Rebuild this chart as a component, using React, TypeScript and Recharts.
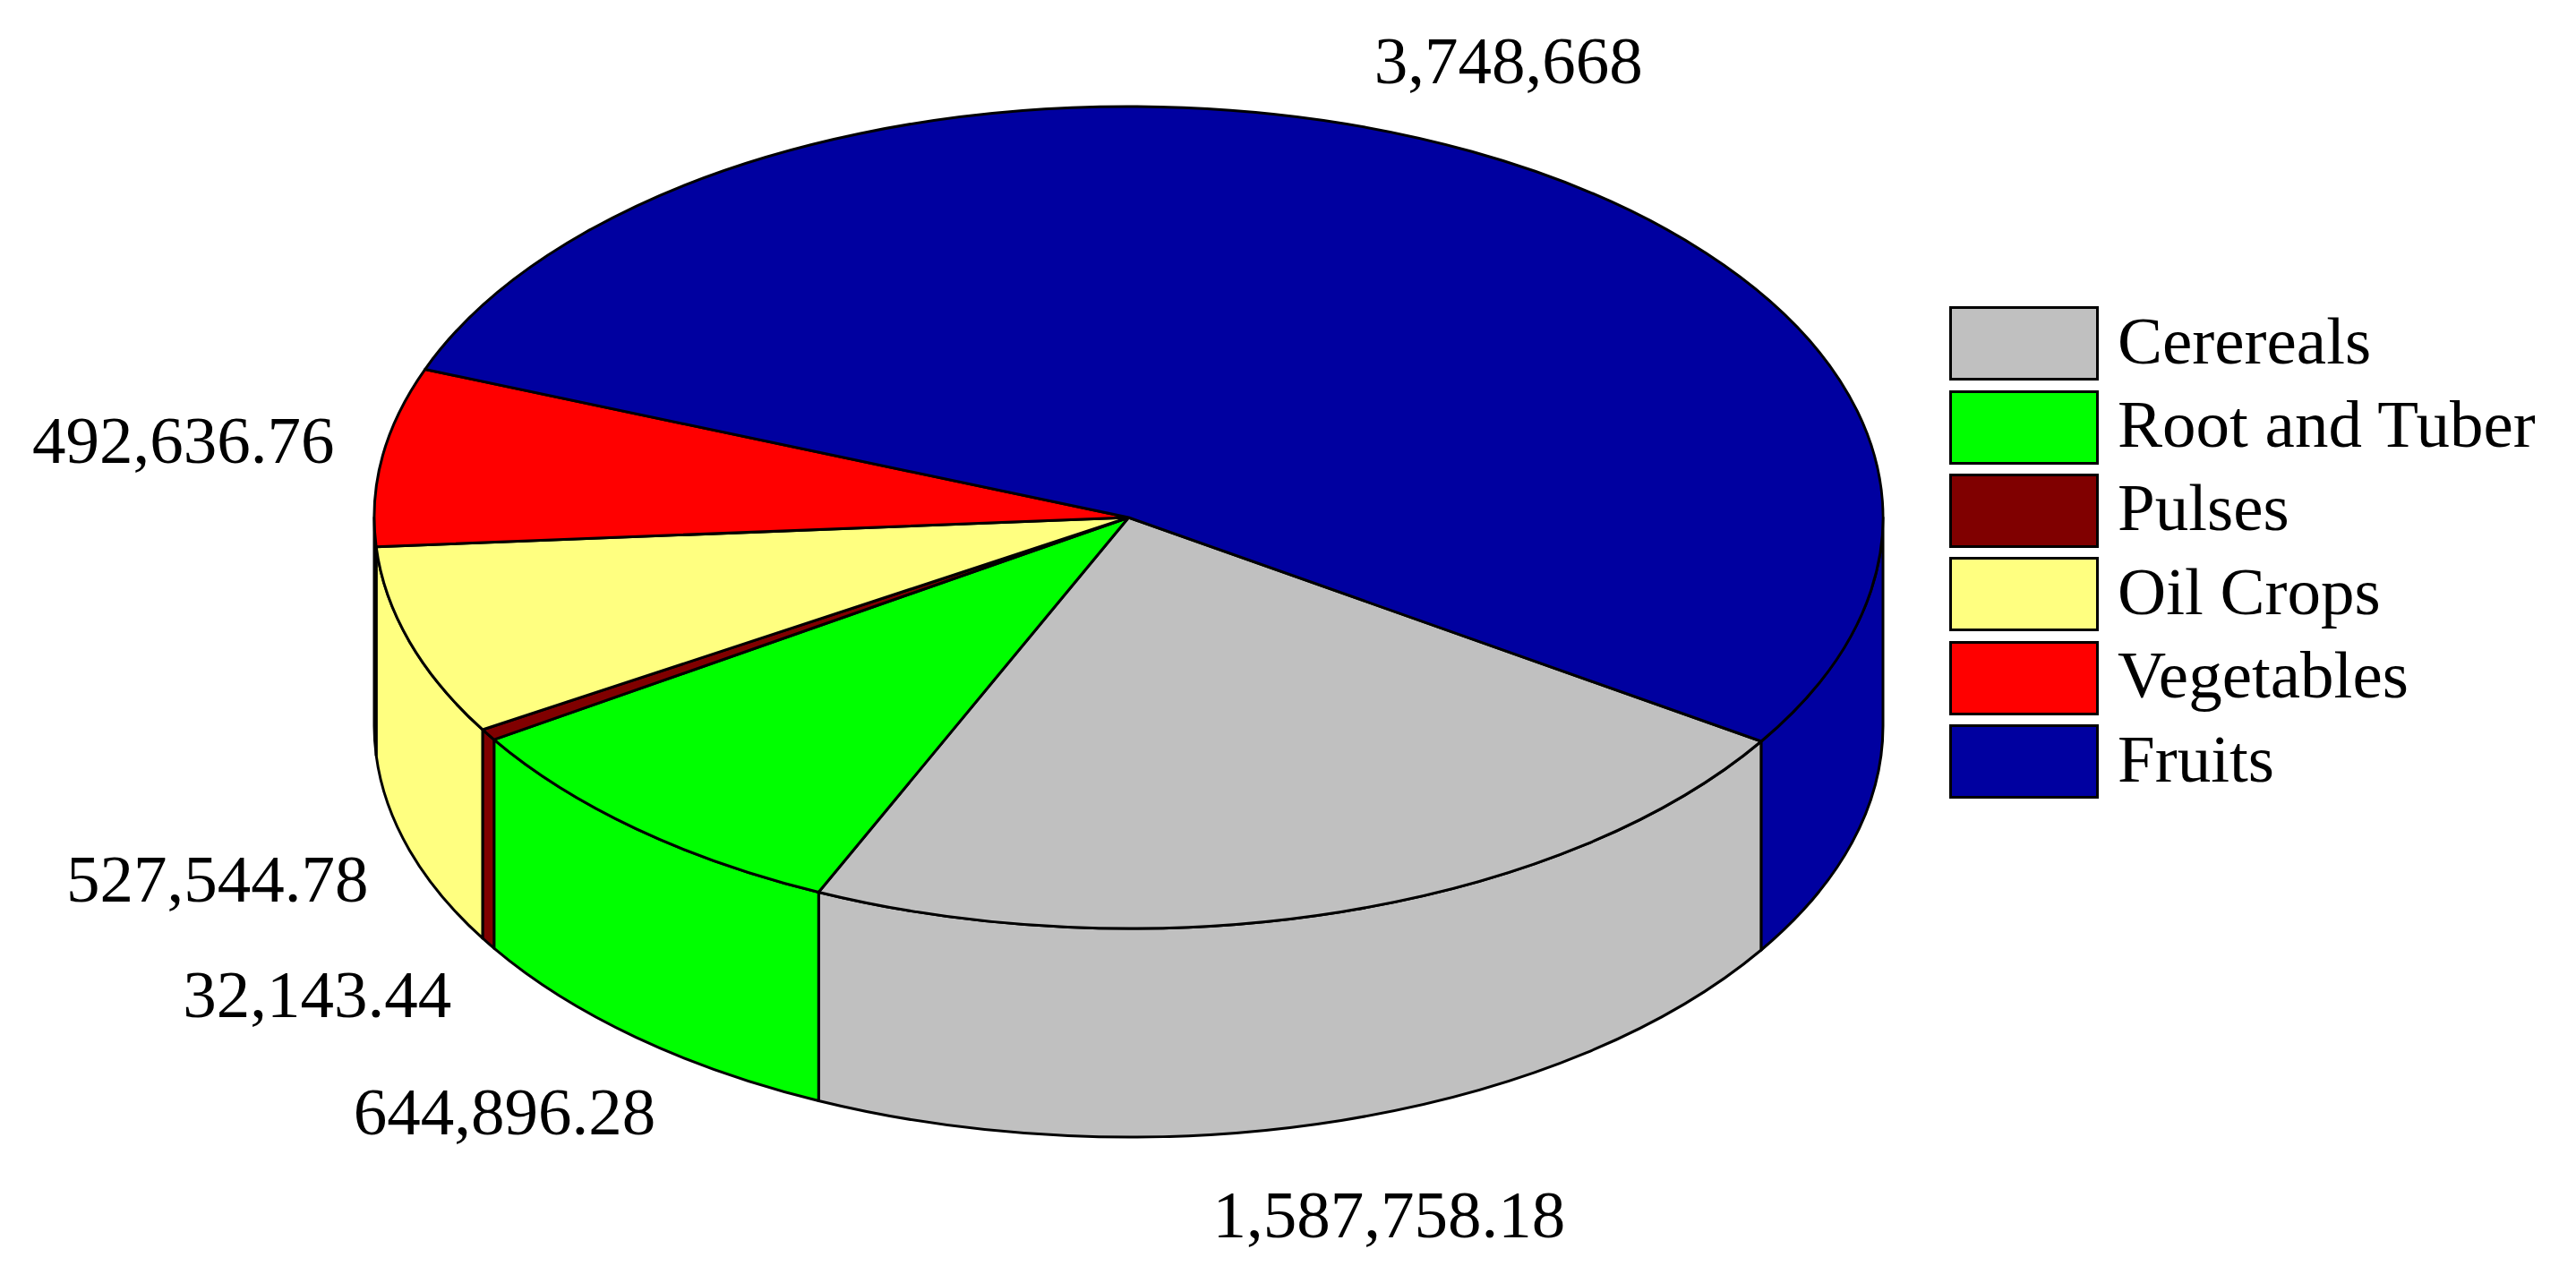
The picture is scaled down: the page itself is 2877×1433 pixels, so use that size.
import React from "react";
import { PieChart, Pie, Legend } from "recharts";

const categories = ["Cerereals", "Root and Tuber", "Pulses", "Oil Crops", "Vegetables", "Fruits"];
const values = [1587758.18, 644896.28, 32143.44, 527544.78, 492636.76, 3748668];
const colors = ["#C0C0C0", "#00FF00", "#800000", "#FFFF80", "#FF0000", "#0000A0"];

const W = 2877;
const H = 1433;
const CX = 1260.5;
const CY = 578;
const RX = 842.5;
const RY = 459;
const DEPTH = 233;
const START = -33;
const FONT = "'Liberation Serif', 'Times New Roman', serif";

const data = categories.map((name, i) => ({ name, value: values[i], fill: colors[i] }));

const rad = (a: number) => (a * Math.PI) / 180;
const px = (cx: number, a: number) => cx + RX * Math.cos(rad(a));
const py = (cy: number, a: number) => cy - RY * Math.sin(rad(a));

function Slice3D(props: any) {
  const { cx, cy, startAngle, endAngle, fill } = props;
  const span = startAngle - endAngle;
  const large = span > 180 ? 1 : 0;
  const walls: string[] = [];
  [[-180, 0], [-540, -360]].forEach(([lo, hi]) => {
    const a = Math.min(startAngle, hi);
    const b = Math.max(endAngle, lo);
    if (a > b) {
      walls.push(
        `M${px(cx, a)},${py(cy, a)} A${RX},${RY} 0 0 1 ${px(cx, b)},${py(cy, b)} ` +
          `L${px(cx, b)},${py(cy, b) + DEPTH} A${RX},${RY} 0 0 0 ${px(cx, a)},${py(cy, a) + DEPTH} Z`
      );
    }
  });
  const top =
    `M${cx},${cy} L${px(cx, startAngle)},${py(cy, startAngle)} ` +
    `A${RX},${RY} 0 ${large} 1 ${px(cx, endAngle)},${py(cy, endAngle)} Z`;
  return (
    <g>
      {walls.map((d, i) => (
        <path key={i} d={d} fill={fill} stroke="#000" strokeWidth={3} strokeLinejoin="round" />
      ))}
      <path d={top} fill={fill} stroke="#000" strokeWidth={3} strokeLinejoin="round" />
    </g>
  );
}

function renderLabel(props: any) {
  const { cx, cy, midAngle, value, index } = props;
  const c = Math.cos(rad(midAngle));
  const s = Math.sin(rad(midAngle));
  const gapX = c < 0 ? 225 : 90;
  const x = cx + c * (RX + gapX) + (index === 0 ? 28 : 0);
  const y = cy - s * (RY + 112) + (s < 0 ? DEPTH : 0) - 2;
  return (
    <text
      key={index}
      x={x}
      y={y}
      textAnchor="middle"
      dominantBaseline="central"
      fontFamily={FONT}
      fontSize={75}
      fill="#000"
    >
      {Number(value).toLocaleString("en-US", { maximumFractionDigits: 2 })}
    </text>
  );
}

function LegendBox({ payload }: any) {
  return (
    <div>
      {(payload || []).map((e: any) => (
        <div key={e.value} style={{ display: "flex", alignItems: "center", height: 93.4 }}>
          <div
            style={{
              boxSizing: "border-box",
              width: 167,
              height: 83,
              background: e.color,
              border: "3px solid #000",
            }}
          />
          <span
            style={{
              marginLeft: 21,
              marginTop: -6,
              fontFamily: FONT,
              fontSize: 75,
              lineHeight: "80px",
              color: "#000",
              whiteSpace: "nowrap",
            }}
          >
            {e.value}
          </span>
        </div>
      ))}
    </div>
  );
}

export default function App() {
  return (
    <div style={{ position: "absolute", left: 0, top: 0, width: W, height: H, background: "#fff" }}>
      <PieChart width={W} height={H} margin={{ top: 0, right: 0, bottom: 0, left: 0 }}>
        <Pie
          data={data}
          dataKey="value"
          nameKey="name"
          cx={CX}
          cy={CY}
          innerRadius={0}
          outerRadius={RX}
          startAngle={START}
          endAngle={START - 360}
          stroke="#000"
          shape={Slice3D}
          label={renderLabel}
          labelLine={false}
          isAnimationActive={false}
        />
        <Legend
          layout="vertical"
          align="right"
          verticalAlign="top"
          itemSorter={null}
          content={<LegendBox />}
          wrapperStyle={{ left: 2177, top: 337, right: "auto", bottom: "auto", width: 690 }}
        />
      </PieChart>
    </div>
  );
}
